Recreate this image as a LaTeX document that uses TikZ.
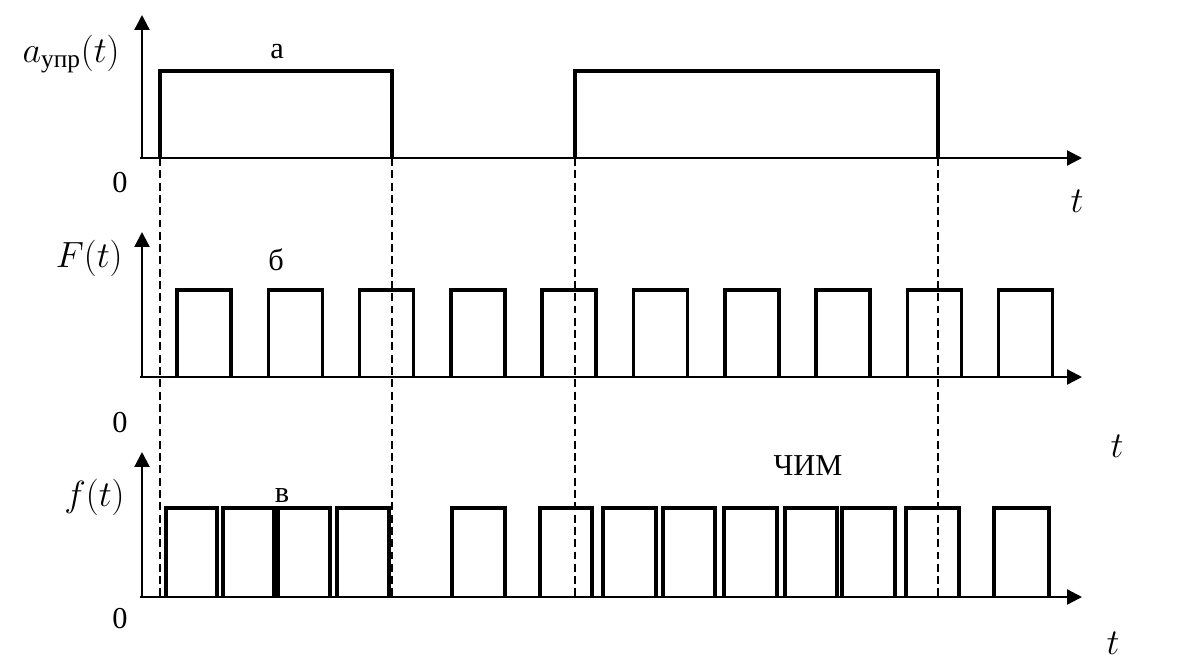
\documentclass[tikz,border=0pt]{standalone}
\usepackage{amsmath}
\usepackage{fontspec}
\setmainfont{Liberation Serif}
\usetikzlibrary{arrows.meta}

\begin{document}
\begin{tikzpicture}[x=0.02cm,y=-0.02cm,font=\fontsize{17.28}{20}\selectfont,
   axis/.style={line width=1.3pt,-{Triangle[length=8.5pt,width=8.5pt]}},
   pulse/.style={line width=2pt,line join=miter},
   guide/.style={line width=0.6pt,dash pattern=on 4.5pt off 2.5pt},
   lbl/.style={inner sep=0pt,anchor=base},
   mlbl/.style={lbl,font=\fontsize{20.74}{24}\selectfont}]
  \useasboundingbox (0,0) rectangle (1179,660);
  \coordinate (oa) at (140,158); \coordinate (ya) at (142,15);  \coordinate (xa) at (1082,158);
  \coordinate (ob) at (140,377); \coordinate (yb) at (142,232); \coordinate (xb) at (1082,377);
  \coordinate (oc) at (140,597); \coordinate (yc) at (142,452); \coordinate (xc) at (1082,597);
  \foreach \o/\y/\x in {oa/ya/xa,ob/yb/xb,oc/yc/xc} {
    \draw[axis] (\o -| \y) -- (\y);
    \draw[axis] (\o) -- (\x);
  }
  \foreach \x/\n in {160/e1,392/e2,575/e3,938/e4}
    \coordinate (\n) at (\x,158);
  \draw[pulse] (e1) |- (276,71) -| (e2);
  \draw[pulse] (e3) |- (756,71) -| (e4);
  \foreach \n in {e1,e2,e3,e4}
    \draw[guide] (\n) -- (\n |- oc);
  \foreach \i in {0,...,9}
    \draw[pulse] ({177+91.3*\i},377) |- ++(27,-87) -| ++(27,87);
  \foreach \s/\e in {166/217,223/274,278/330,337/389,452/505,540/592,603/656,
                     663/715,724/777,785/837,842/895,906/959,994/1049}
    \draw[pulse] (\s,597) -- (\s,508) -- (\e,508) -- (\e,597);
  \node[mlbl,anchor=base east] (la) at (120,62) {$a_{\text{упр}}(t)$};
  \node[lbl] (na) at (277,58) {а};
  \node[lbl] (za) at (120,192) {0};
  \node[mlbl] (ta) at (1077,212) {$t$};
  \node[mlbl,anchor=base east] (lb) at (123,267) {$F(t)$};
  \node[lbl] (nb) at (276,270) {б};
  \node[lbl] (zb) at (120,432) {0};
  \node[mlbl] (tb) at (1117,457) {$t$};
  \node[mlbl,anchor=base east] (lc) at (125,506) {$f(t)$};
  \node[lbl] (nc) at (282,502) {в};
  \node[lbl] (mc) at (808,475) {ЧИМ};
  \node[lbl] (zc) at (120,628) {0};
  \node[mlbl] (tc) at (1113,654) {$t$};
\end{tikzpicture}
\end{document}
